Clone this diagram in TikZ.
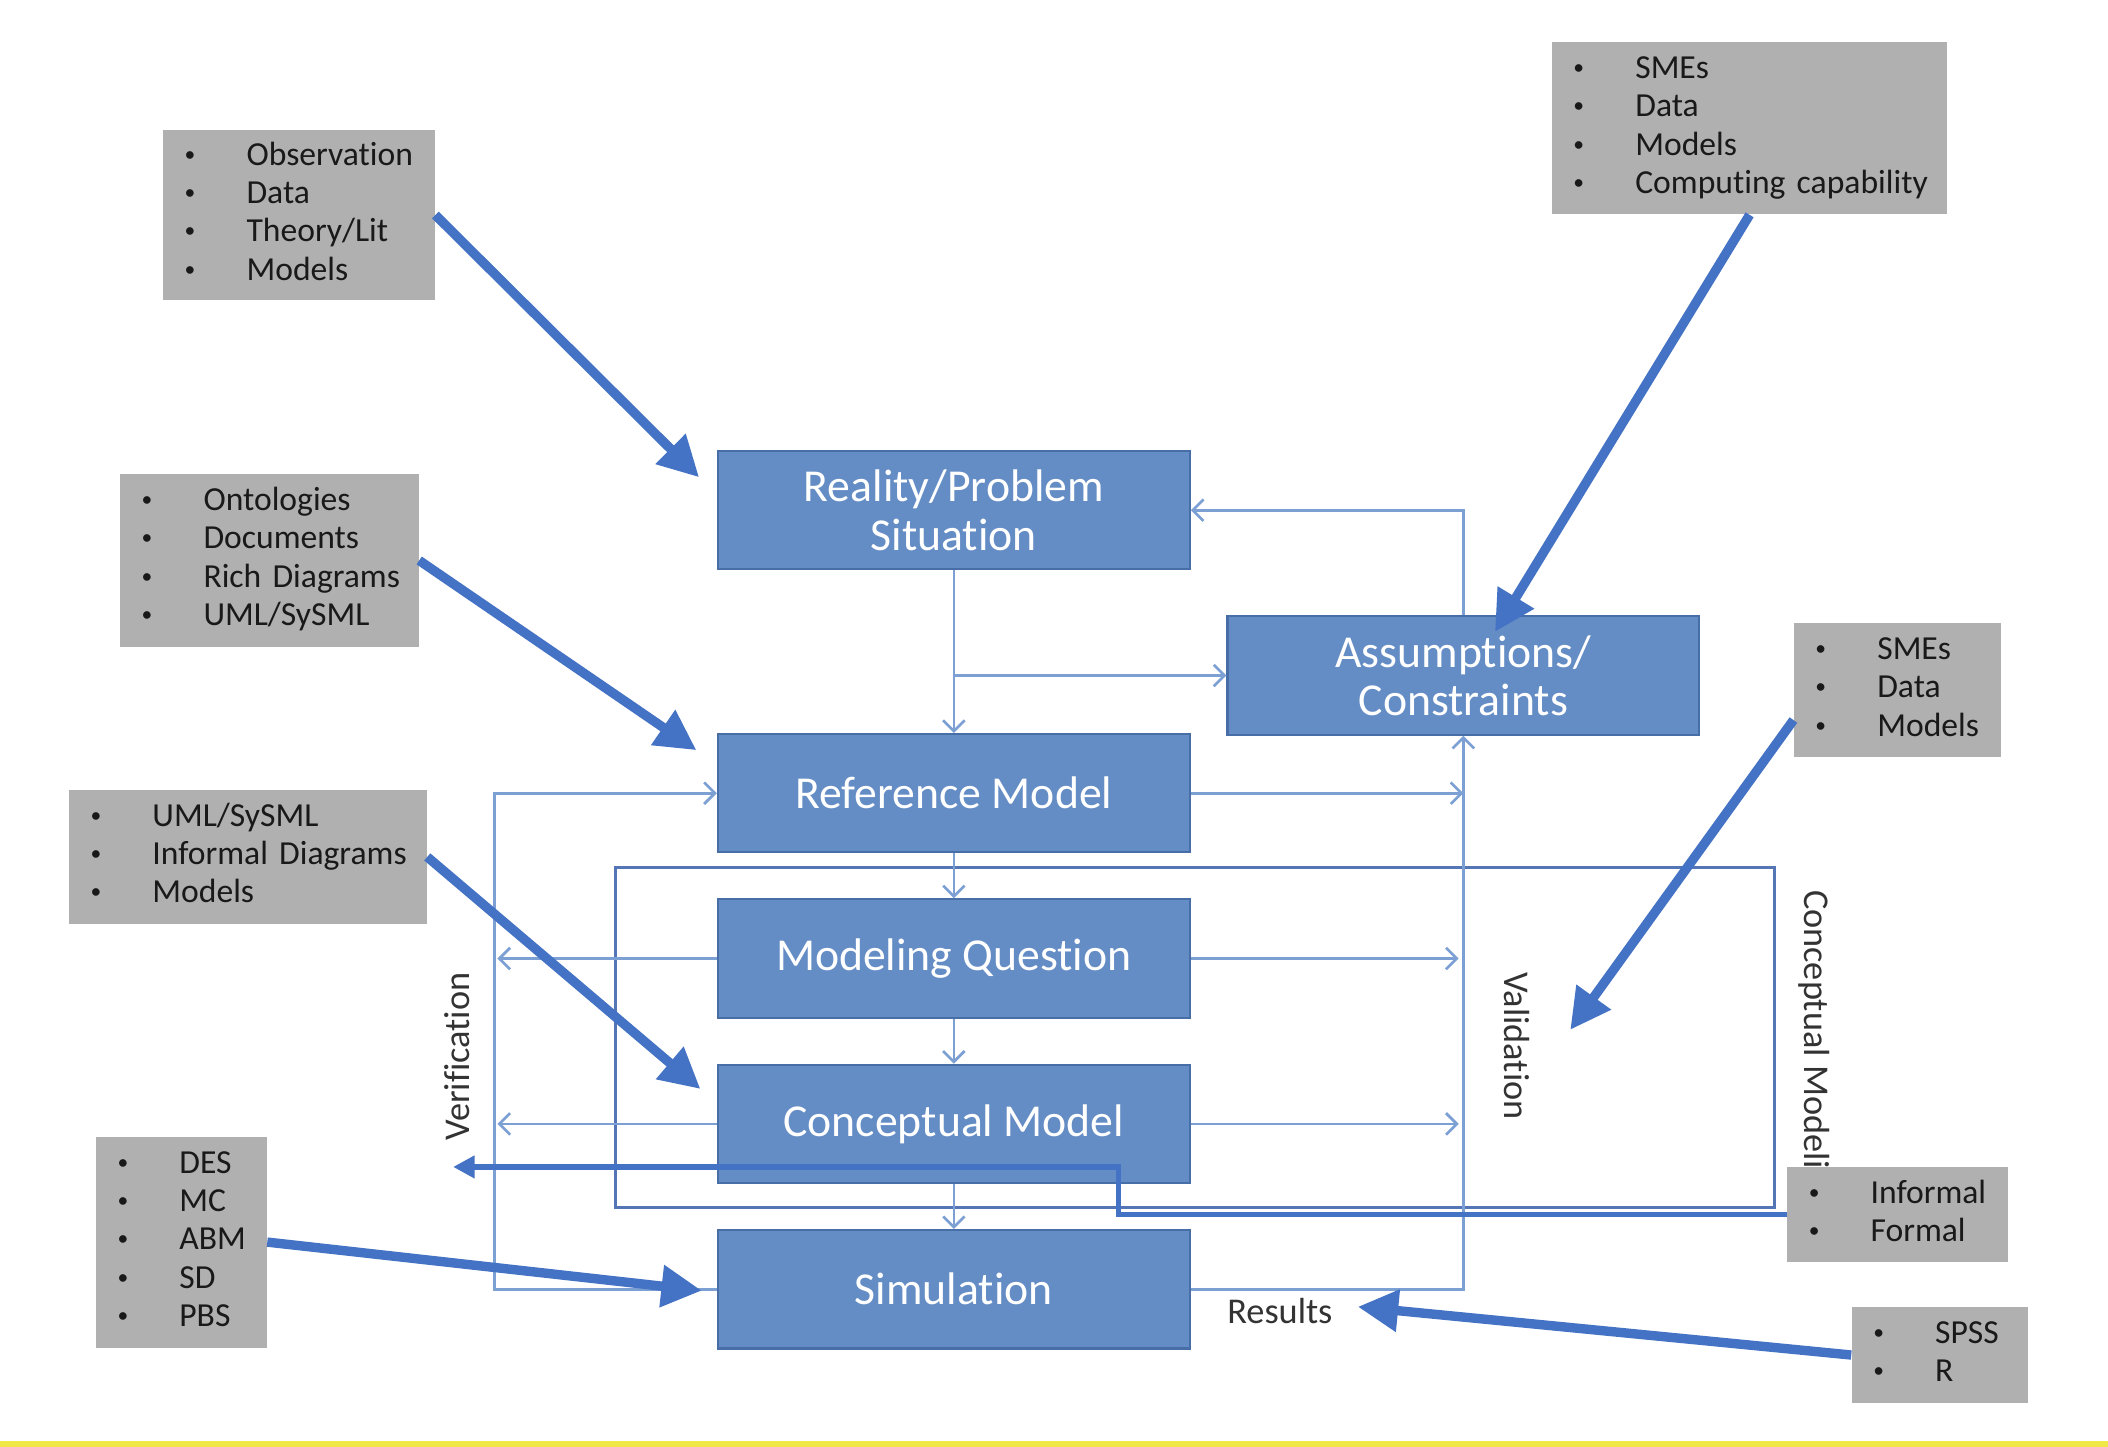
\documentclass[tikz,border=0pt]{standalone}
\usepackage{fontspec}
\setmainfont{Carlito}[Ligatures=NoCommon]
\usetikzlibrary{arrows.meta}

\definecolor{stagefill}{RGB}{101,141,197}
\definecolor{stageedge}{RGB}{72,110,168}
\definecolor{infogray}{RGB}{176,176,176}
\definecolor{feedblue}{RGB}{68,114,196}
\definecolor{linkblue}{RGB}{125,160,212}
\definecolor{frameblue}{RGB}{84,118,182}
\definecolor{rulegold}{RGB}{240,232,70}

\newcommand{\smalldot}{\raisebox{1.5pt}{\fontsize{8}{8}\selectfont\textbullet}}
\newcommand{\bitem}[1]{\smalldot & #1\\}
\newcommand{\blist}[1]{\begin{tabular}{@{}p{23pt}@{}l@{}}#1\end{tabular}}

\tikzset{
  stage/.style={draw=stageedge, line width=0.8pt, fill=stagefill, text=white,
    minimum width=175.5pt, minimum height=44pt, inner sep=2pt, align=center,
    font=\fontsize{17}{18}\selectfont},
  info/.style={fill=infogray, anchor=north west, inner xsep=8pt, inner ysep=0pt,
    align=left, text=black!90, font=\fontsize{12.5}{14.25}\selectfont},
  link/.style={draw=linkblue, line width=1pt, -{Straight Barb[length=4pt,width=8pt]}},
  feed/.style={draw=feedblue, line width=3.5pt, -{Triangle[length=15pt,width=15pt]}},
  fbk/.style={draw=feedblue, line width=2pt, -{Triangle[length=8pt,width=8pt]}},
  tag/.style={text=black!80, font=\fontsize{13.5}{15}\selectfont}
}

\begin{document}
\begin{tikzpicture}[x=0.5pt,y=-0.5pt]
  \useasboundingbox (0,0) rectangle (1568,1076);
  \fill[white] (0,0) rectangle (1568,1076);
  \fill[rulegold] (0,1072) rectangle (1568,1076);

  % conceptual modeling frame
  \draw[frameblue, line width=1.2pt] (458,645) rectangle (1320,898);
  \node[tag, rotate=-90, anchor=west] (cmlabel) at (1349,655) {Conceptual Modeling};

  % stages
  \node[stage] (real) at (709.5,379.5) {Reality/Problem\\Situation};
  \node[stage] (asm) at (1088.5,502.5) {Assumptions/\\Constraints};
  \node[stage] (ref) at (709.5,590) {Reference Model};
  \node[stage] (mq) at (709.5,713) {Modeling Question};
  \node[stage] (cm) at (709.5,836) {Conceptual Model};
  \node[stage] (sim) at (709.5,959) {Simulation};

  % inputs
  \node[info, text width=85pt, minimum height=63.5pt] (obs) at (121,96)
    {\blist{\bitem{Observation}\bitem{Data}\bitem{Theory/Lit}\bitem{Models}}};
  \node[info, text width=95pt, minimum height=64.5pt] (onto) at (89,352)
    {\blist{\bitem{Ontologies}\bitem{Documents}\bitem{Rich Diagrams}\bitem{UML/SySML}}};
  \node[info, text width=117pt, minimum height=50pt] (uml) at (51,587)
    {\blist{\bitem{UML/SySML}\bitem{Informal Diagrams}\bitem{Models}}};
  \node[info, text width=47.5pt, minimum height=78.5pt] (des) at (71,845)
    {\blist{\bitem{DES}\bitem{MC}\bitem{ABM}\bitem{SD}\bitem{PBS}}};
  \node[info, text width=131pt, minimum height=64pt] (sme1) at (1154,31)
    {\blist{\bitem{SMEs}\bitem{Data}\bitem{Models}\bitem{Computing capability}}};
  \node[info, text width=61pt, minimum height=50pt] (sme2) at (1334,463)
    {\blist{\bitem{SMEs}\bitem{Data}\bitem{Models}}};
  \node[info, text width=66pt, minimum height=35pt] (form) at (1329,868)
    {\blist{\bitem{Informal}\bitem{Formal}}};
  \node[info, text width=49.5pt, minimum height=35.5pt] (spss) at (1377,972)
    {\blist{\bitem{SPSS}\bitem{R}}};

  % labels
  \node[tag, rotate=90] (verif) at (340,786) {Verification};
  \node[tag, rotate=-90] (valid) at (1128,778) {Validation};
  \node[tag] (res) at (952,975) {Results};

  % free ends
  \coordinate (vl) at (368,959);
  \coordinate (mqv) at (370,713);
  \coordinate (cmv) at (370,836);
  \coordinate (mqr) at (1085,713);
  \coordinate (cmr) at (1085,836);
  \coordinate (tipA) at (520,355);
  \coordinate (tipB) at (518,558);
  \coordinate (tipC) at (521,810);
  \coordinate (tipD) at (522,960);
  \coordinate (tipE) at (1112,470);
  \coordinate (tipF) at (1168,766);
  \coordinate (tipG) at (1010,972);
  \coordinate (bend) at (832,868);
  \coordinate (vtip) at (337,868);

  % thin links
  \draw[link] (real.south) -- (ref.north);
  \draw[link] (real.south |- asm.west) -- (asm.west);
  \draw[link] (asm.north) |- (real.east);
  \draw[link] (sim.east) -| (asm.south);
  \draw[link] (ref.east) -- (ref.east -| asm.south);
  \draw[link] (mq.east) -- (mqr);
  \draw[link] (cm.east) -- (cmr);
  \draw[link] (ref.south) -- (mq.north);
  \draw[link] (mq.south) -- (cm.north);
  \draw[link] (cm.south) -- (sim.north);
  \draw[link] (sim.west) -- (vl) |- (ref.west);
  \draw[link] (mq.west) -- (mqv);
  \draw[link] (cm.west) -- (cmv);

  % thick feeds
  \draw[feed] (obs.east) -- (tipA);
  \draw[feed] (onto.east) -- (tipB);
  \draw[feed] (uml.east) -- (tipC);
  \draw[feed] (des.east) -- (tipD);
  \draw[feed] (sme1.south) -- (tipE);
  \draw[feed] (sme2.196) -- (tipF);
  \draw[feed] (spss.west) -- (tipG);
  \draw[fbk] (form.west) -| (bend) -- (vtip);
\end{tikzpicture}
\end{document}
